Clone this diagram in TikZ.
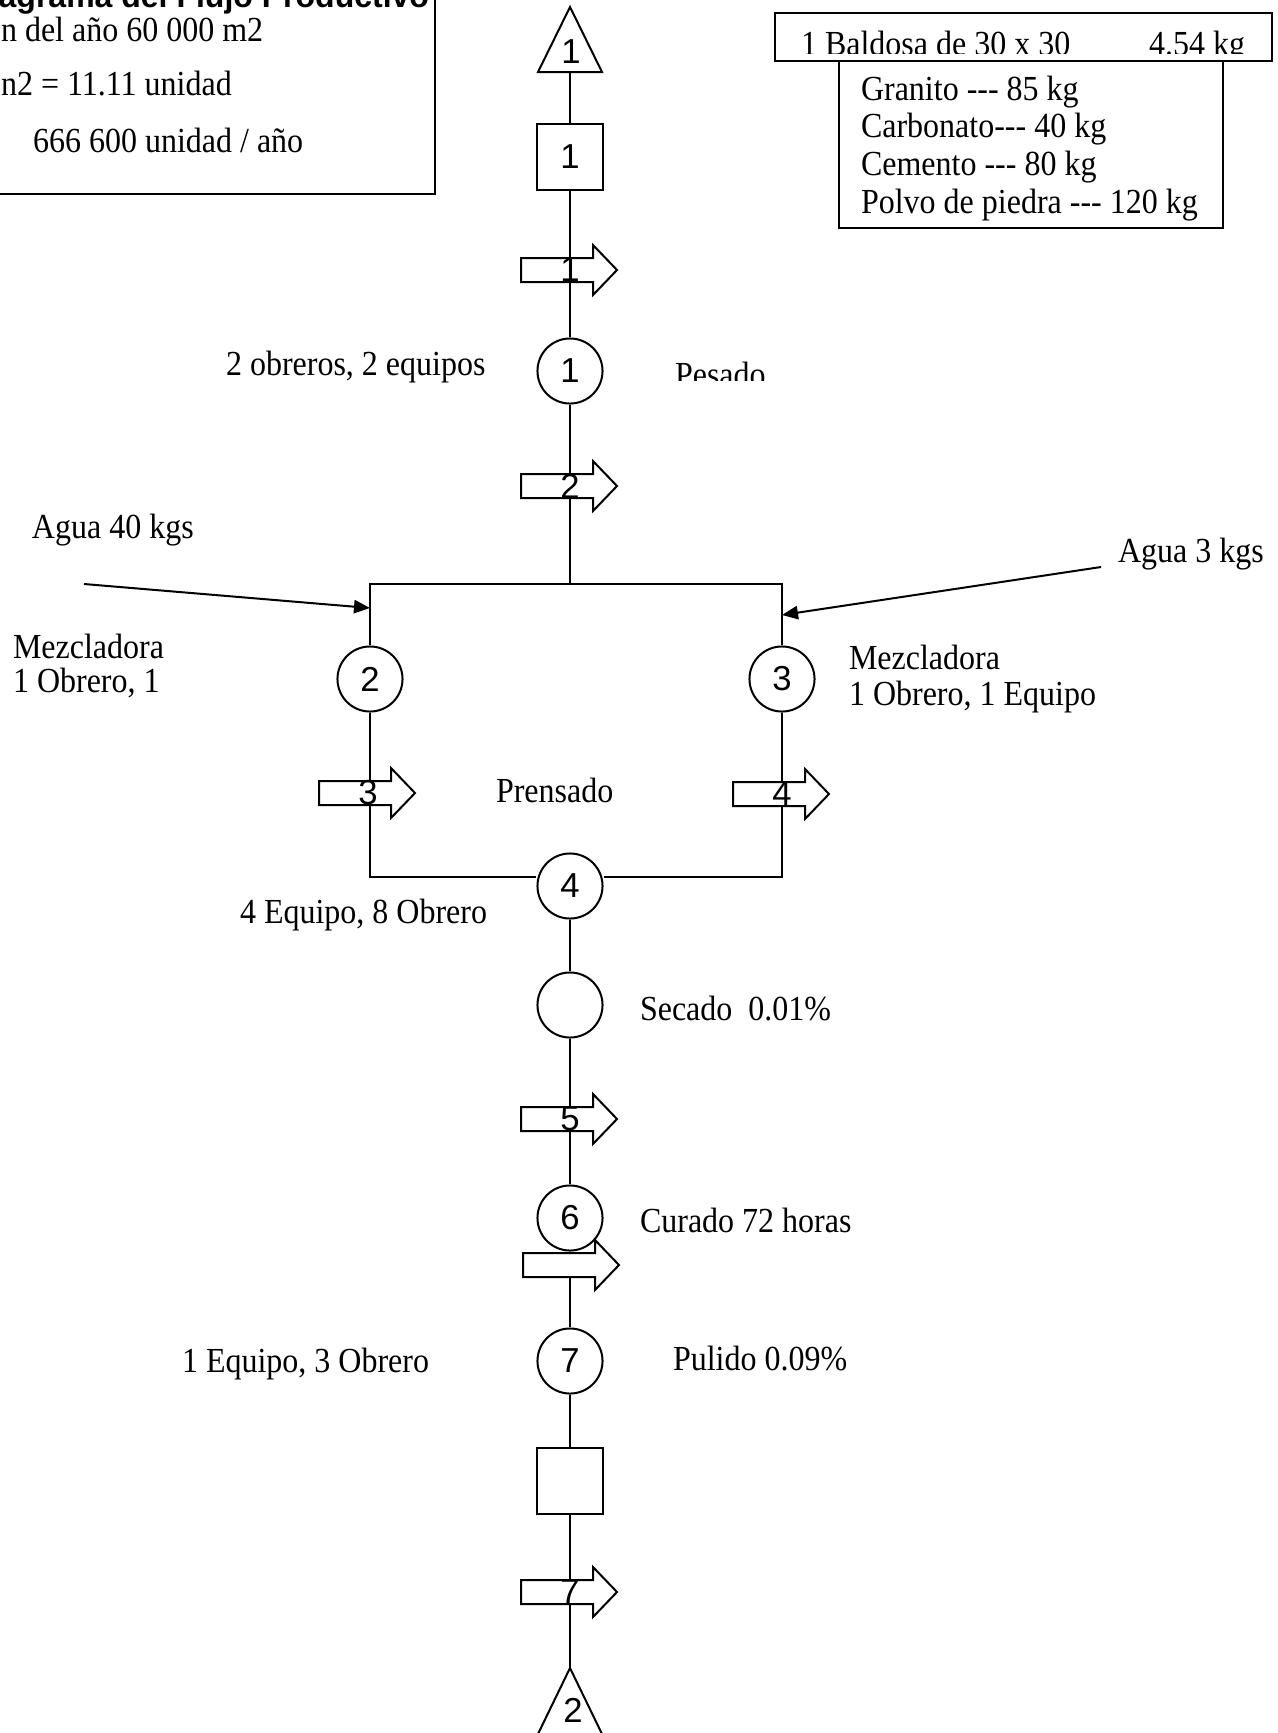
\documentclass[tikz,border=0pt]{standalone}
\usepackage{fontspec}
\setmainfont{Liberation Serif}
\newfontfamily\numfont{Liberation Sans}
\usetikzlibrary{arrows.meta}
\newcommand{\guiones}{-{}-{}-}

\tikzset{pics/flujo/.style={code={%
  \draw[fill=white] (-49,-12) -- (23,-12) -- (23,-25) -- (47,0) -- (23,25) -- (23,12) -- (-49,12) -- cycle;}}}

\begin{document}
\begin{tikzpicture}[x=0.375pt, y=-0.375pt, line width=0.75pt,
    txt/.style={anchor=base west, inner sep=0pt, yscale=1.1, font=\fontsize{12}{14}\selectfont},
    num/.style={inner sep=0pt, font=\numfont\fontsize{13}{15}\selectfont},
    circ/.style={circle, draw, minimum size=24.4pt, num},
    cuad/.style={draw, minimum size=24.4pt, num},
    entra/.style={-{Triangle[length=6pt,width=5pt]}}]
  \useasboundingbox (0,0) rectangle (1278,1733);

  % recuadro de produccion
  \draw (-20,-20) -- (435,-20) -- (435,194) -- (-20,194);
  \node[anchor=base east, inner sep=0pt, font=\numfont\bfseries\fontsize{12}{14}\selectfont]
    (titulo) at (430,7) {agrama del Flujo Productivo};
  \node[txt] (prod) at (0,41) {n del año 60 000 m2};
  \node[txt] (equiv) at (0,95) {n2 = 11.11 unidad};
  \node[txt] (anual) at (32,152) {666 600 unidad / año};

  % recuadro de materiales
  \begin{scope}
    \clip (775,13) rectangle (1272,53);
    \node[txt] (baldosa) at (800,55) {1 Baldosa de 30 x 30};
    \node[txt] (peso) at (1148,55) {4.54 kg};
  \end{scope}
  \draw (775,13) rectangle (1272,61);
  \draw (839,61) rectangle (1223,228);
  \node[txt] (granito) at (860,100) {Granito \guiones{} 85 kg};
  \node[txt] (carbonato) at (860,137) {Carbonato\guiones{} 40 kg};
  \node[txt] (cemento) at (860,175) {Cemento \guiones{} 80 kg};
  \node[txt] (polvo) at (860,213) {Polvo de piedra \guiones{} 120 kg};

  % simbolos del flujo
  \draw (570,7) -- (602,72) -- (538,72) -- cycle;
  \node[num] (t1) at (571,52) {1};
  \coordinate (t1b) at (570,72);
  \node[cuad] (s1) at (570,157) {1};
  \node[circ] (c1) at (570,371) {1};
  \coordinate (tm) at (570,584);
  \coordinate (tl) at (370,584);
  \coordinate (tr) at (782,584);
  \coordinate (bl) at (370,877);
  \coordinate (br) at (782,877);
  \node[circ] (c2) at (370,679) {2};
  \node[circ] (c3) at (782,679) {3};
  \node[circ] (c4) at (570,886) {4};
  \node[circ] (c5) at (570,1005) {};
  \node[circ] (c6) at (570,1218) {6};
  \node[circ] (c7) at (570,1361) {7};
  \node[cuad] (s2) at (570,1481) {};
  \coordinate (t2a) at (570,1668);
  \draw (t2a) -- (603,1736) -- (537,1736) -- cycle;
  \node[num] (t2) at (573,1710) {2};

  % lineas
  \draw (t1b) -- (s1);
  \draw (s1) -- (c1);
  \draw (c1) -- (tm);
  \draw (c2) -- (tl) -- (tr) -- (c3);
  \draw (c2) -- (bl) -- (bl -| c4.west);
  \draw (c3) -- (br) -- (br -| c4.east);
  \draw (c4) -- (c5);
  \draw (c5) -- (c6);
  \draw (c6) -- (c7);
  \draw (c7) -- (s2);
  \draw (s2) -- (t2a);

  % agua
  \coordinate (w1) at (84,584);
  \coordinate (e1) at (370,608);
  \coordinate (w2) at (1101,567);
  \coordinate (e2) at (782,615);
  \draw[entra] (w1) -- (e1);
  \draw[entra] (w2) -- (e2);

  % transportes
  \path (570,270) pic {flujo} node[num] (a1) {1};
  \path (570,486) pic {flujo} node[num] (a2) {2};
  \path (368,793) pic {flujo} node[num] (a3) {3};
  \path (782,794) pic {flujo} node[num] (a4) {4};
  \path (570,1119) pic {flujo} node[num] (a5) {5};
  \path (572,1265) pic {flujo};
  \path (570,1592) pic {flujo} node[num] (a7) {7};

  % textos
  \node[txt] (obreros1) at (225,375) {2 obreros, 2 equipos};
  \begin{scope}
    \clip (650,330) rectangle (800,380);
    \node[txt] (pesado) at (674,386) {Pesado};
  \end{scope}
  \node[txt] (agua1) at (31,538) {Agua 40 kgs};
  \node[txt] (agua2) at (1117,562) {Agua 3 kgs};
  \node[txt] (mez2) at (12,658) {Mezcladora};
  \node[txt] (obr2) at (12,692) {1 Obrero, 1};
  \node[txt] (mez3) at (848,669) {Mezcladora};
  \node[txt] (obr3) at (848,705) {1 Obrero, 1 Equipo};
  \node[txt] (prensado) at (495,802) {Prensado};
  \node[txt] (obr4) at (239,923) {4 Equipo, 8 Obrero};
  \node[txt] (secado) at (639,1020) {Secado\ \ 0.01\%};
  \node[txt] (curado) at (639,1232) {Curado 72 horas};
  \node[txt] (obr7) at (181,1372) {1 Equipo, 3 Obrero};
  \node[txt] (pulido) at (672,1370) {Pulido 0.09\%};
\end{tikzpicture}
\end{document}
